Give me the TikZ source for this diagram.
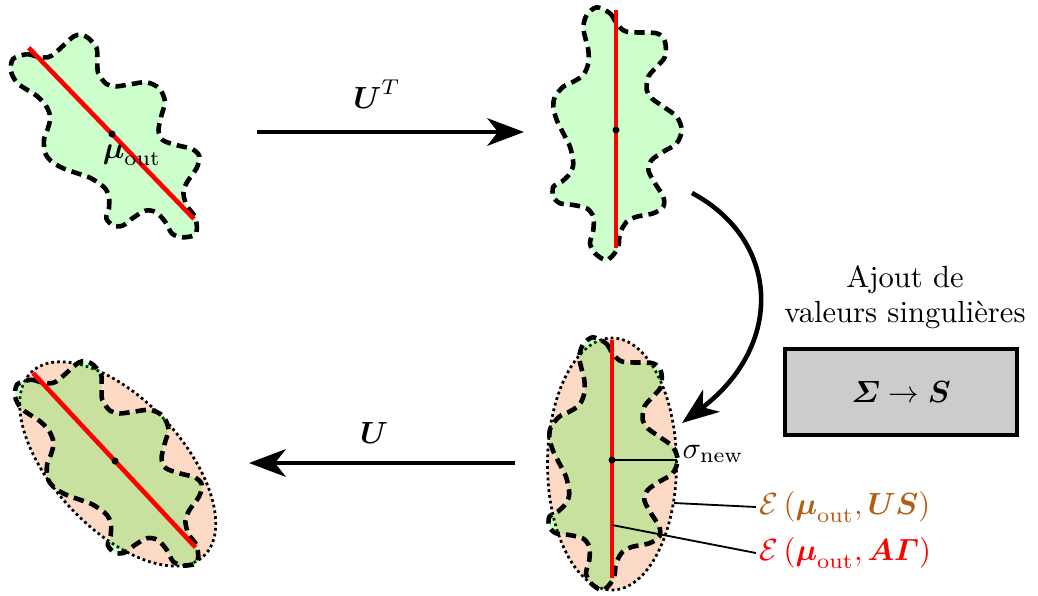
\documentclass[tikz,border=0pt]{standalone}
\usepackage{amsmath}
\usetikzlibrary{arrows.meta}
\definecolor{salmon}{RGB}{252,218,198}
\definecolor{ebrown}{RGB}{178,94,20}
\definecolor{boxgray}{RGB}{204,204,204}
\tikzset{
  blobstyle/.style={fill=green, fill opacity=0.2, draw=black, line width=1.5pt, dash pattern=on 3.4pt off 2pt},
  axisline/.style={red, line width=1.5pt},
  ellstyle/.style={fill=salmon, draw=black, line width=0.9pt, dash pattern=on 0.9pt off 1pt},
  mainarrow/.style={line width=1.3pt, -{Stealth[length=12pt,width=9pt,inset=3.5pt]}},
  thinline/.style={line width=0.6pt},
  plainblob/.pic={
    \path[blobstyle] plot[smooth cycle] coordinates {
      (-19.3,-122.7) (-6,-116.7) (0.7,-106.7) (10.7,-98.3) (40.7,-96.7) (49,-88.3)
      (49,-73.3) (40.7,-63.3) (32.3,-53.3) (30.7,-40) (35.7,-31.7) (47.3,-23.3)
      (60.7,-13.3) (65.7,0) (60.7,13.3) (47.3,21.7) (35.7,30) (32.3,40) (39,53.3)
      (47.3,66.7) (47.3,76.7) (37.3,83.3) (20.7,86.7) (10.7,91.7) (4,103.3)
      (2.3,116.7) (-4.3,126.7) (-11,130) (-21,123.3) (-26,113.3) (-22.7,100)
      (-22.7,86.7) (-29.3,78.3) (-42.7,75) (-56,73.3) (-62.7,66.7) (-62.7,56.7)
      (-54.3,51.7) (-46,43.3) (-42.7,33.3) (-46,16.7) (-52.7,3.3) (-59.3,-10)
      (-62.7,-23.3) (-61,-33.3) (-52.7,-43.3) (-42.7,-48.3) (-32.7,-55)
      (-27.7,-66.7) (-27.7,-80) (-31,-93.3) (-32.7,-103.3) (-29.3,-115)};
    \draw[axisline] (0,-120) -- (0,118);
    \fill[black] (0,0) circle (3.5);
  },
  ellpic/.pic={
    \path[ellstyle] (0,4) ellipse [x radius=64.5, y radius=126];
  }
}
\begin{document}
\begin{tikzpicture}[x=0.3268pt, y=-0.3268pt]
\useasboundingbox (0,0) rectangle (1038,595);

% shapes
\pic[rotate=44] at (112,134) {plainblob};
\pic at (616,130) {plainblob};
\pic at (612,460) {ellpic};
\pic at (612,460) {plainblob};
\pic[rotate=43] at (115,461) {ellpic};
\pic[rotate=43] at (115,461) {plainblob};

\node (muout) [anchor=base, inner sep=0pt] at (132,158) {$\boldsymbol{\mu}_{\mathrm{out}}$};

% straight arrows
\coordinate (a1s) at (257,132);
\coordinate (a1e) at (524,132);
\draw[mainarrow] (a1s) -- (a1e);
\node (UT) [anchor=base, inner sep=0pt] at (377,108) {$\boldsymbol{U}^T$};

\coordinate (a2s) at (515,463);
\coordinate (a2e) at (249,463);
\draw[mainarrow] (a2s) -- (a2e);
\node (U) [anchor=base, inner sep=0pt] at (374,443) {$\boldsymbol{U}$};

% curved arrow
\coordinate (c1) at (692,193);
\coordinate (c2) at (682,423);
\draw[mainarrow, line width=1.5pt] (c1) .. controls (780,240) and (785,345) .. (c2);

% text and box
\node (ajout1) [anchor=base, inner sep=0pt] at (905,287) {Ajout de};
\node (ajout2) [anchor=base, inner sep=0pt] at (905,322) {valeurs singulières};
\node (box) [draw, line width=1.3pt, fill=boxgray, minimum width=76pt, minimum height=28pt, inner sep=0pt] at (901,392) {$\boldsymbol{\varSigma}\rightarrow\boldsymbol{S}$};

% labels on bottom-right shape
\coordinate (dot4) at (612,460);
\coordinate (sigend) at (677,460);
\draw[thinline] (dot4) -- (sigend);
\node (sig) [anchor=base west, inner sep=0pt] at (682,458) {$\sigma_{\mathrm{new}}$};

\coordinate (eUS) at (674,503);
\node (lUS) [anchor=west, inner sep=1pt, text=ebrown] at (756,507) {$\mathcal{E}\left(\boldsymbol{\mu}_{\mathrm{out}},\boldsymbol{U}\boldsymbol{S}\right)$};
\draw[thinline] (eUS) -- (lUS.west);

\coordinate (onred) at (612,525);
\node (lAG) [anchor=west, inner sep=1pt, text=red] at (756,553) {$\mathcal{E}\left(\boldsymbol{\mu}_{\mathrm{out}},\boldsymbol{A}\boldsymbol{\varGamma}\right)$};
\draw[thinline] (onred) -- (lAG.west);
\end{tikzpicture}
\end{document}
